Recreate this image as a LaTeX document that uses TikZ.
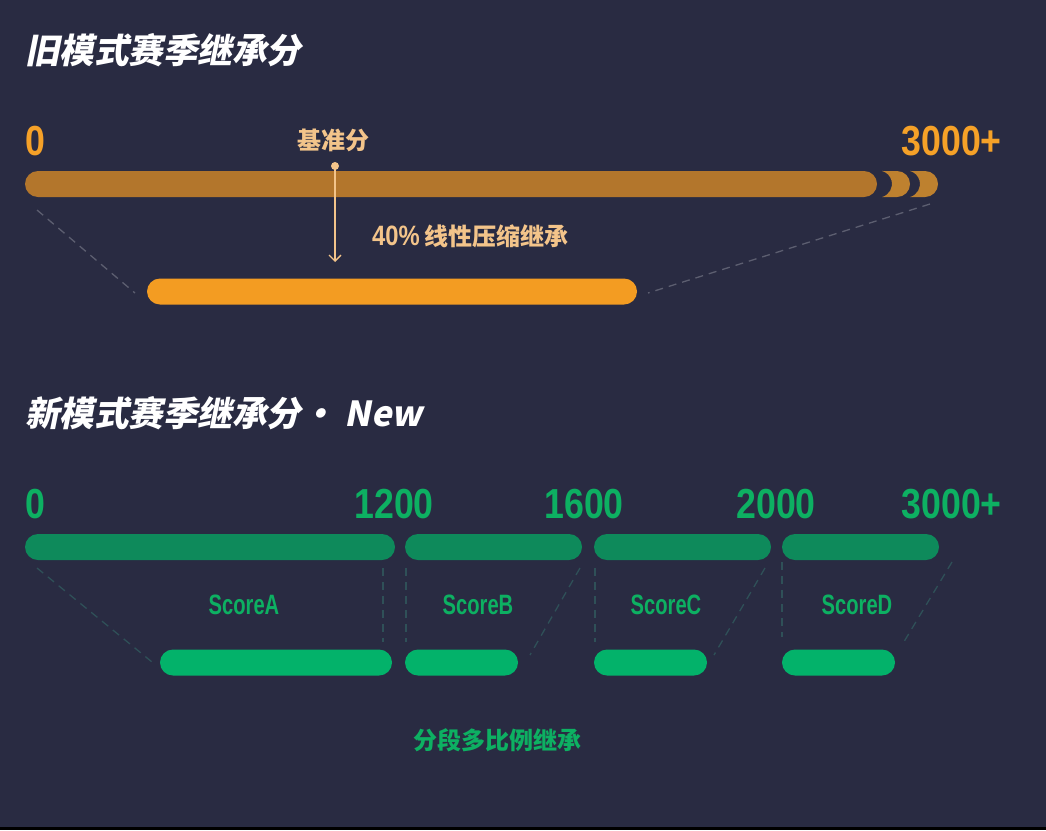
\documentclass[tikz,border=0pt]{standalone}
\usepackage{fontspec}
\usetikzlibrary{arrows.meta}
\newfontfamily\cjk{Noto Sans CJK SC}
\newfontfamily\cjkit{Noto Sans CJK SC}[FakeSlant=0.2]
\newfontfamily\numf{Liberation Sans}[FakeStretch=0.85]
\newfontfamily\scoref{Liberation Sans}[FakeStretch=0.72]
\definecolor{bg}{RGB}{41,43,66}
\definecolor{ortext}{RGB}{245,161,40}
\definecolor{peach}{RGB}{243,196,138}
\definecolor{orbar}{RGB}{179,118,44}
\definecolor{orcres}{RGB}{190,129,47}
\definecolor{orlow}{RGB}{243,156,34}
\definecolor{greydash}{RGB}{92,94,112}
\definecolor{grtext}{RGB}{13,176,98}
\definecolor{grbar}{RGB}{14,138,91}
\definecolor{grlow}{RGB}{3,178,106}
\definecolor{tealdash}{RGB}{47,80,88}
\tikzset{
  title/.style={anchor=west, inner sep=0, text=white, font=\cjkit\bfseries\fontsize{34.5}{34.5}\selectfont},
  num/.style={inner sep=0, font=\numf\bfseries\fontsize{42}{42}\selectfont},
  pill/.style={rectangle, rounded corners=13pt, minimum height=26pt, inner sep=0, draw=none},
  dashline/.style={dash pattern=on 8pt off 6pt, line width=1.3pt},
  score/.style={inner sep=0, text=grtext, font=\scoref\bfseries\fontsize{28}{28}\selectfont},
  lab/.style={inner sep=0, font=\cjk\bfseries\fontsize{24}{24}\selectfont}
}
\begin{document}
\begin{tikzpicture}[x=1pt,y=-1pt]
\useasboundingbox (0,0) rectangle (1046,830);
\fill[bg] (0,0) rectangle (1046,830);
\fill[black] (0,827) rectangle (1046,830);

% ---------- old mode ----------
\node[title] (t1) at (25,50) {旧模式赛季继承分};
\node[num, text=ortext, anchor=base west] (o0) at (25,155) {0};
\node[num, text=ortext, anchor=base east] (o3000) at (1002,155) {3000+};
\node[lab, text=peach] (base) at (333,140) {基准分};

% crescents
\fill[orcres] (925,171) arc[start angle=-90, end angle=90, radius=13] -- (910.1,197) arc[start angle=74.4, end angle=-74.4, radius=13.5] -- cycle;
\fill[orcres] (897,171) arc[start angle=-90, end angle=90, radius=13] -- (882.1,197) arc[start angle=74.4, end angle=-74.4, radius=13.5] -- cycle;

\node[pill, fill=orbar, minimum width=852pt] (obar) at (451,184) {};
\node[pill, fill=orlow, minimum width=490pt] (olow) at (392,291.5) {};

\coordinate (ol1) at (37,210);
\coordinate (ol2) at (135,293);
\coordinate (or1) at (930,204);
\coordinate (or2) at (648,293);
\draw[greydash, dashline] (ol1) -- (ol2);
\draw[greydash, dashline] (or1) -- (or2);

\node[circle, fill=peach, inner sep=0, minimum size=8pt] (dot) at (335,166) {};
\coordinate (arrend) at (335,262);
\draw[peach, line width=1.3pt, -{Straight Barb[length=6pt,width=12pt]}] (dot.center) -- (arrend);
\node[lab, text=peach, anchor=west] (lin) at (372,236) {{\numf\bfseries\fontsize{28}{28}\selectfont 40\%}\hspace{5pt}线性压缩继承};

% ---------- new mode ----------
\node[title] (t2) at (25,413) {新模式赛季继承分·\hspace{9pt}New};
\node[num, text=grtext, anchor=base west] (n0) at (25,518) {0};
\node[num, text=grtext, anchor=base east] (n1200) at (434,518) {1200};
\node[num, text=grtext, anchor=base east] (n1600) at (624,518) {1600};
\node[num, text=grtext, anchor=base east] (n2000) at (816,518) {2000};
\node[num, text=grtext, anchor=base east] (n3000) at (1002,518) {3000+};

\node[pill, fill=grbar, minimum width=370pt] (ba) at (210,547) {};
\node[pill, fill=grbar, minimum width=177pt] (bb) at (493.5,547) {};
\node[pill, fill=grbar, minimum width=177pt] (bc) at (682.5,547) {};
\node[pill, fill=grbar, minimum width=157pt] (bd) at (860.5,547) {};

\node[pill, fill=grlow, minimum width=232pt] (la) at (276,662.5) {};
\node[pill, fill=grlow, minimum width=113pt] (lb) at (461.5,662.5) {};
\node[pill, fill=grlow, minimum width=113pt] (lc) at (650.5,662.5) {};
\node[pill, fill=grlow, minimum width=113pt] (ld) at (838.5,662.5) {};

\node[score] (sa) at (244,605) {ScoreA};
\node[score] (sb) at (478,605) {ScoreB};
\node[score] (sc) at (666,605) {ScoreC};
\node[score] (sd) at (857,605) {ScoreD};

\coordinate (a1) at (37,568);   \coordinate (a2) at (152,662);
\coordinate (a3) at (383,568);  \coordinate (a4) at (383,642);
\coordinate (b1) at (406,568);  \coordinate (b2) at (406,642);
\coordinate (b3) at (580,568);  \coordinate (b4) at (530,655);
\coordinate (c1) at (595,568);  \coordinate (c2) at (595,642);
\coordinate (c3) at (765,568);  \coordinate (c4) at (714,655);
\coordinate (d1) at (782,562);  \coordinate (d2) at (782,637);
\coordinate (d3) at (952,562);  \coordinate (d4) at (902,645);
\draw[tealdash, dashline] (a1) -- (a2);
\draw[tealdash, dashline] (a3) -- (a4);
\draw[tealdash, dashline] (b1) -- (b2);
\draw[tealdash, dashline] (b3) -- (b4);
\draw[tealdash, dashline] (c1) -- (c2);
\draw[tealdash, dashline] (c3) -- (c4);
\draw[tealdash, dashline] (d1) -- (d2);
\draw[tealdash, dashline] (d3) -- (d4);

\node[lab, text=grtext] (multi) at (497,740) {分段多比例继承};
\end{tikzpicture}
\end{document}
